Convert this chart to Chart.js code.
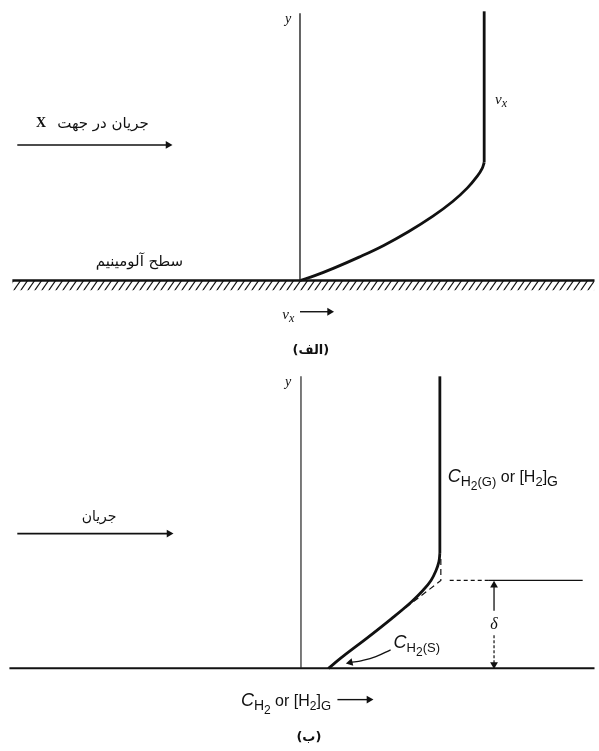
<!DOCTYPE html>
<html>
<head>
<meta charset="utf-8">
<script src="https://cdn.jsdelivr.net/npm/chart.js@4"></script>
<style>
body{margin:0;background:#fff;}
canvas{display:block;}
</style>
</head>
<body>
<canvas id="top" width="599" height="365"></canvas>
<canvas id="bottom" width="599" height="386"></canvas>
<script>
// (الف) velocity profile, x = v_x, y = distance above the aluminium surface
const velAxis = [{x:0,y:0},{x:0,y:274}];
const velUpper = [{x:187,y:121},{x:187,y:276}];
const velCurve = [{x:0,y:0},{x:15,y:5},{x:35,y:13},{x:60,y:24},{x:85,y:36},{x:110,y:50},{x:135,y:66},{x:155,y:81},{x:170,y:95},{x:180,y:107},{x:185,y:115},{x:187,y:121}];
const surfaceTop = [{x:-292,y:0},{x:299,y:0}];
const hatchBand = [{x:-292,y:-10},{x:299,y:-10}];
const flowTop = [{x:-287,y:139},{x:-134,y:139}];
const vxArrow = [{x:0,y:-32},{x:30,y:-32}];

// (ب) hydrogen concentration profile
const concAxis = [{x:0,y:0},{x:0,y:299}];
const concUpper = [{x:141,y:118},{x:141,y:299}];
const concCurve = [{x:28,y:0},{x:41,y:11},{x:67,y:31},{x:92,y:51},{x:112,y:68},{x:124,y:80},{x:132,y:90},{x:137,y:100},{x:140,y:109},{x:141,y:118}];
const concLinear = [{x:142,y:112},{x:142,y:90},{x:27,y:0}];
const deltaDash = [{x:151,y:90},{x:190,y:90}];
const deltaLine = [{x:190,y:90},{x:286,y:90}];
const deltaUp = [{x:196,y:59},{x:196,y:85}];
const deltaDown = [{x:196,y:34},{x:196,y:4}];
const surfArrow = [{x:91,y:19},{x:76,y:12},{x:62,y:8},{x:50,y:6}];
const surfaceBottom = [{x:-296,y:0},{x:298,y:0}];
const flowBottom = [{x:-288,y:138},{x:-134,y:138}];
const concArrow = [{x:37,y:-32},{x:69,y:-32}];

const FA = '"DejaVu Sans"';
const SERIF = '"Liberation Serif"';
const SANS = '"Liberation Sans"';

// text parts: [text, font, dy]
const labelsTop = [
  {x:-12, y:264, align:'center', parts:[['y','italic 14px '+SERIF,0]]},
  {x:198, y:181, parts:[['v','italic 15px '+SERIF,0],['x','italic 12px '+SERIF,3]]},
  {x:-200, y:156, align:'center', rtl:true, parts:[['جریان در جهت','15px '+FA,0]]},
  {x:-263, y:157, align:'center', parts:[['X','bold 14px '+SERIF,0]]},
  {x:-163, y:15, align:'center', rtl:true, parts:[['سطح آلومینیم','15px '+FA,0]]},
  {x:-18, y:-39, parts:[['v','italic 15px '+SERIF,0],['x','italic 12px '+SERIF,3]]},
  {x:11, y:-75, align:'center', rtl:true, parts:[['(الف)','bold 13px '+FA,0]]}
];
const labelsBottom = [
  {x:-13, y:289, align:'center', parts:[['y','italic 14px '+SERIF,0]]},
  {x:149, y:191, parts:[['C','italic 18px '+SANS,0],['H','14px '+SANS,4],['2','12px '+SANS,8],['(G)','13px '+SANS,4],[' or [H','16px '+SANS,0],['2','13px '+SANS,4],[']','16px '+SANS,0],['G','14px '+SANS,4]]},
  {x:94, y:21, parts:[['C','italic 18px '+SANS,0],['H','13px '+SANS,4],['2','12px '+SANS,8],['(S)','13px '+SANS,4]]},
  {x:196, y:40, align:'center', parts:[['δ','italic 16px '+SERIF,0]]},
  {x:-205, y:151, align:'center', rtl:true, parts:[['جریان','14px '+FA,0]]},
  {x:-61, y:-39, parts:[['C','italic 18px '+SANS,0],['H','14px '+SANS,4],['2','12px '+SANS,8],[' or [H','16px '+SANS,0],['2','12px '+SANS,4],[']','16px '+SANS,0],['G','13px '+SANS,4]]},
  {x:8, y:-74, align:'center', rtl:true, parts:[['(ب)','bold 13px '+FA,0]]}
];

const INK = '#111';

function line(data, o) {
  return Object.assign({data, showLine:true, borderColor:INK, borderWidth:1.5, pointRadius:0, pointHoverRadius:0, tension:0, fill:false, clip:false}, o || {});
}
function arrow(data, rot, o) {
  const n = data.length;
  return line(data, Object.assign({
    pointStyle:'triangle',
    pointRadius:data.map((_, i) => i === n - 1 ? 4.5 : 0),
    pointRotation:rot,
    pointBackgroundColor:INK, pointBorderColor:INK, pointBorderWidth:0
  }, o || {}));
}

function hatchPattern() {
  const c = document.createElement('canvas');
  c.width = 7; c.height = 10;
  const g = c.getContext('2d');
  g.strokeStyle = INK; g.lineWidth = 1.2;
  for (const k of [-1, 0, 1]) {
    g.beginPath(); g.moveTo(k * 7, 10); g.lineTo(k * 7 + 7, 0); g.stroke();
  }
  return document.getElementById('top').getContext('2d').createPattern(c, 'repeat');
}

const textPlugin = labels => ({
  id:'diagramText',
  afterDatasetsDraw(chart) {
    const ctx = chart.ctx, xs = chart.scales.x, ys = chart.scales.y;
    ctx.save();
    ctx.fillStyle = INK;
    ctx.textBaseline = 'alphabetic';
    labels.forEach(l => {
      let px = xs.getPixelForValue(l.x);
      const py = ys.getPixelForValue(l.y);
      ctx.direction = l.rtl ? 'rtl' : 'ltr';
      if (l.align === 'center') {
        ctx.textAlign = 'center';
        ctx.font = l.parts[0][1];
        ctx.fillText(l.parts[0][0], px, py);
        return;
      }
      ctx.textAlign = 'left';
      l.parts.forEach(p => {
        ctx.font = p[1];
        ctx.fillText(p[0], px, py + p[2]);
        px += ctx.measureText(p[0]).width;
      });
    });
    ctx.restore();
  }
});

function makeChart(id, xr, yr, datasets, labels) {
  return new Chart(document.getElementById(id), {
    type:'scatter',
    data:{datasets},
    options:{
      responsive:false, animation:false, events:[],
      layout:{padding:0},
      plugins:{legend:{display:false}, tooltip:{enabled:false}},
      scales:{
        x:{type:'linear', display:false, min:xr[0], max:xr[1]},
        y:{type:'linear', display:false, min:yr[0], max:yr[1]}
      }
    },
    plugins:[textPlugin(labels)]
  });
}

makeChart('top', [-300, 299], [-82, 283], [
  line(hatchBand, {borderWidth:0, fill:'origin', backgroundColor:hatchPattern()}),
  line(velAxis, {borderWidth:1.4, borderColor:'#222'}),
  line(surfaceTop, {borderWidth:2.4}),
  line(velUpper, {borderWidth:2.8}),
  line(velCurve, {borderWidth:2.8, tension:0.4}),
  arrow(flowTop, 90, {borderWidth:1.6}),
  arrow(vxArrow, 90, {borderWidth:1.4})
], labelsTop);

makeChart('bottom', [-301, 298], [-80, 306], [
  line(concAxis, {borderWidth:1.2, borderColor:'#222'}),
  line(surfaceBottom, {borderWidth:2}),
  line(concLinear, {borderWidth:1.2, borderDash:[6, 4]}),
  line(concUpper, {borderWidth:2.8}),
  line(concCurve, {borderWidth:2.8, tension:0.4}),
  line(deltaDash, {borderWidth:1.3, borderDash:[4, 3]}),
  line(deltaLine, {borderWidth:1.3}),
  arrow(deltaUp, 0, {borderWidth:1.3}),
  arrow(deltaDown, 180, {borderWidth:1.2, borderDash:[3, 2]}),
  arrow(surfArrow, 258, {borderWidth:1.3, tension:0.4}),
  arrow(flowBottom, 90, {borderWidth:1.6}),
  arrow(concArrow, 90, {borderWidth:1.4})
], labelsBottom);
</script>
</body>
</html>
